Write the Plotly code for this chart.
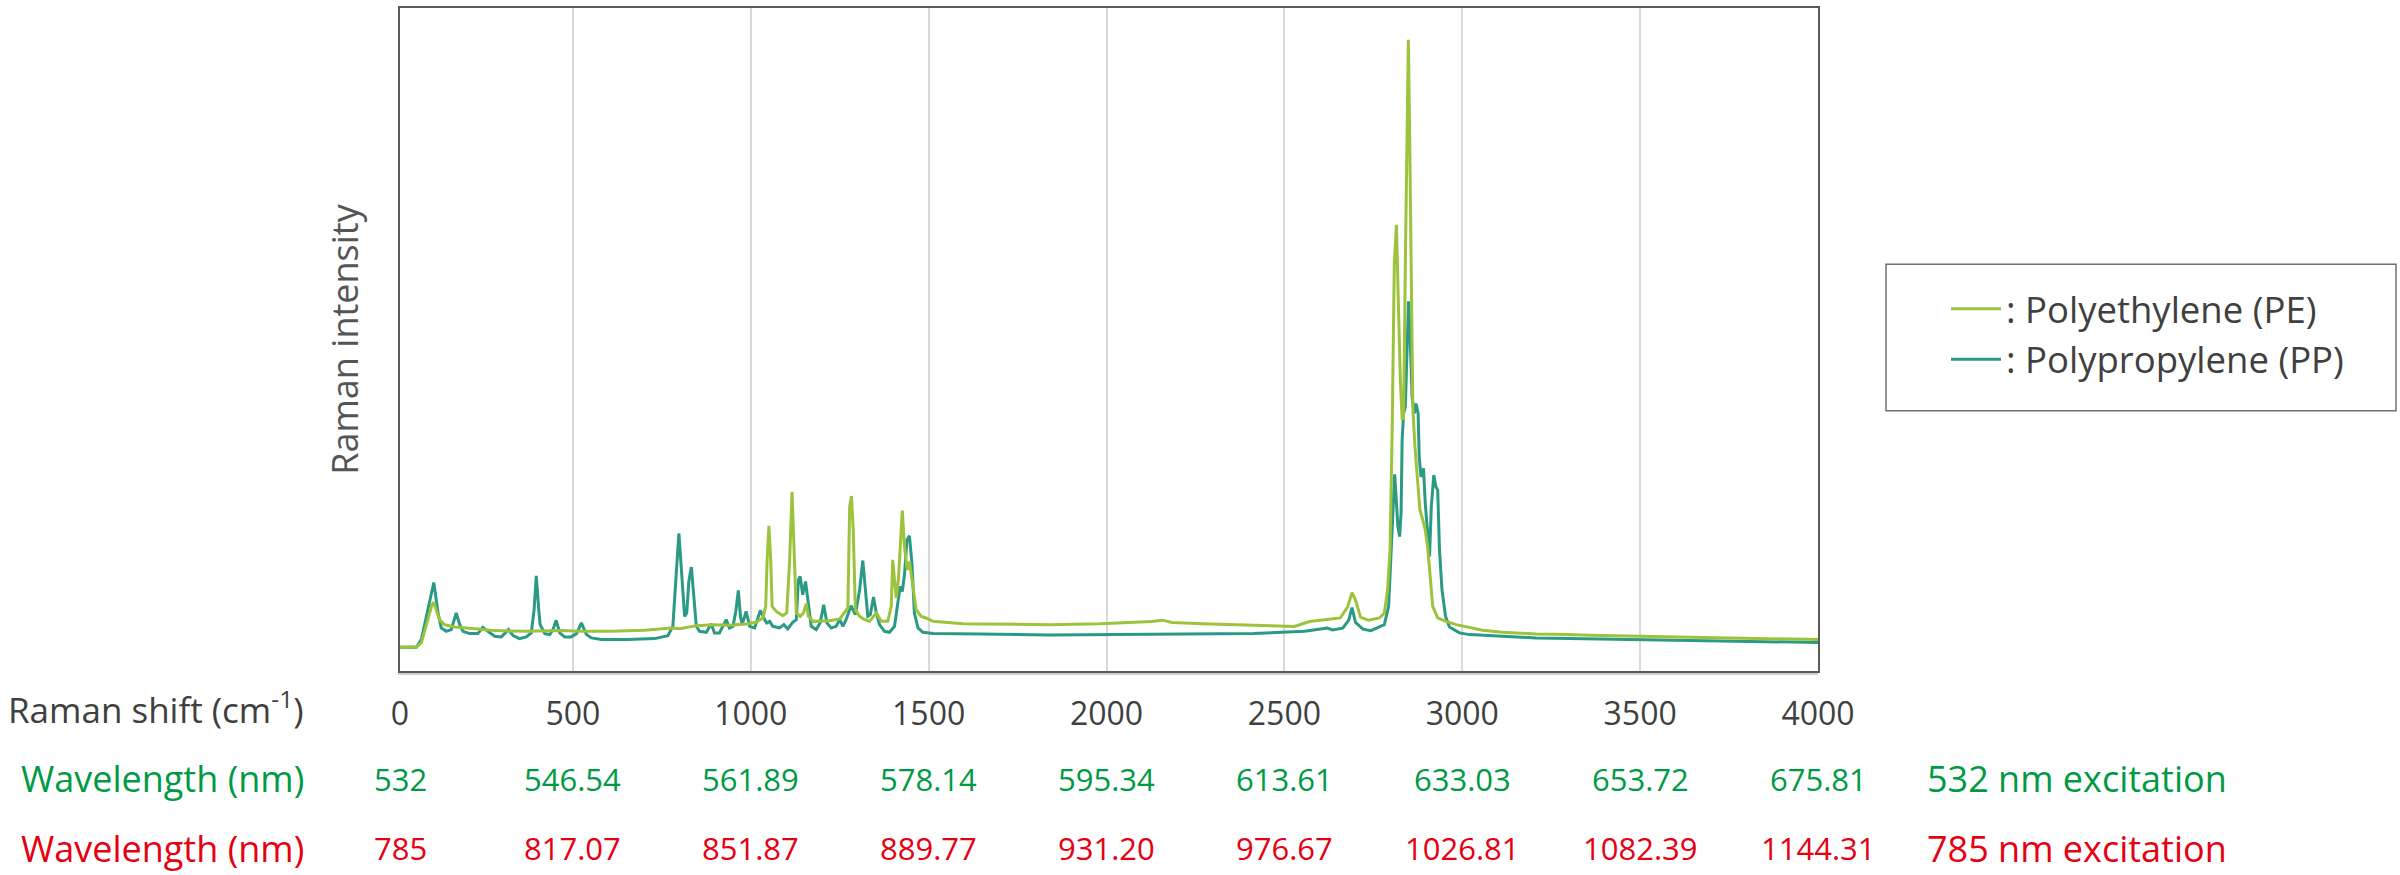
import plotly.graph_objects as go

# ---------------- data ----------------
# Raman shift (cm-1) and relative Raman intensity (arbitrary units)
pp_shift = [14, 60, 74, 93, 109, 121, 130, 144, 158, 172, 182, 191, 210, 233, 247, 261, 280, 299, 319, 332,
            350, 369, 383, 391, 397, 404, 408, 421, 435, 444, 453, 463, 477, 495, 510, 524, 538, 552, 580, 655,
            730, 767, 781, 790, 798, 807, 811, 814, 820, 826, 833, 839, 847, 856, 875, 889, 898, 912, 931, 940,
            950, 958, 965, 971, 976, 987, 997, 1011, 1027, 1039, 1045, 1053, 1062, 1081, 1093, 1104, 1118, 1128,
            1134, 1139, 1146, 1154, 1161, 1170, 1184, 1195, 1205, 1214, 1226, 1240, 1250, 1259, 1268, 1282, 1294,
            1306, 1315, 1323, 1329, 1336, 1345, 1353, 1362, 1376, 1390, 1404, 1413, 1420, 1426, 1432, 1439, 1446,
            1453, 1460, 1470, 1484, 1512, 1549, 1605, 1643, 1840, 2126, 2413, 2557, 2621, 2635, 2664, 2681, 2690,
            2700, 2721, 2743, 2762, 2781, 2793, 2800, 2806, 2810, 2814, 2819, 2824, 2828, 2831, 2835, 2840, 2844,
            2849, 2853, 2859, 2865, 2870, 2876, 2879, 2884, 2891, 2896, 2903, 2908, 2913, 2920, 2926, 2931, 2936,
            2943, 2953, 2964, 2992, 3020, 3114, 3207, 3301, 3357, 3500, 3700, 4000]
pp_intensity = [23.8, 23.8, 31.5, 61.5, 88.8, 58.2, 43.2, 39.8, 41.5, 58.2, 46.5, 39.8, 37.5, 37.5, 43.8, 39.8,
                34.8, 34.2, 41.5, 35.5, 32.5, 34.2, 38.2, 61.5, 95.5, 61.5, 46.5, 37.5, 36.5, 41.5, 50.8, 38.2,
                34.2, 34.2, 37.5, 48.2, 36.5, 33.2, 31.5, 31.5, 32.5, 35.5, 44.8, 95, 138, 91.5, 64.8, 54.8, 58.2,
                90, 104.2, 81.5, 44.8, 39.8, 38.8, 47.5, 38.2, 38.2, 51.5, 43.2, 44.8, 60, 80.8, 55, 46.5, 59.8,
                44.8, 43.2, 60.8, 51.5, 48.2, 49.8, 44.8, 43.2, 46.5, 42.2, 48.8, 51.5, 91.5, 94.8, 76.5, 89.8,
                71.5, 44.8, 41.5, 48.2, 66.5, 48.2, 43.2, 44.8, 51.5, 44.8, 51.5, 65.5, 56.5, 81.5, 110.8, 81.5,
                54.8, 56.5, 74.2, 58.2, 46.5, 39.8, 38.8, 44.8, 64.8, 84.8, 79.8, 96.5, 131.5, 135.5, 108.2, 58.2,
                43.2, 38.8, 37.5, 37.5, 37.2, 37.2, 36.2, 36.7, 37.6, 39.8, 43, 41.2, 43, 51, 63.5, 48.7, 42.0,
                40.5, 43.2, 46.5, 64.8, 121.5, 174.8, 197.2, 174.8, 144.8, 134.8, 158.2, 231.5, 258.2, 264.8,
                324.8, 370.8, 341.5, 274.8, 258.2, 268.2, 258.2, 214.8, 194.8, 203.2, 168.2, 134.8, 115, 164.8,
                196.5, 184.8, 181.5, 121.5, 81.5, 54.8, 44.2, 38.2, 36.5, 34.8, 33.2, 32.5, 32.2, 31.5, 30.5, 28.6]

pe_shift = [14, 60, 74, 93, 104, 109, 116, 125, 139, 168, 233, 280, 374, 467, 524, 608, 702, 776, 800, 847,
            894, 940, 987, 1015, 1034, 1042, 1046, 1051, 1056, 1060, 1072, 1090, 1101, 1109, 1116, 1123, 1128,
            1139, 1148, 1156, 1162, 1175, 1221, 1250, 1264, 1273, 1278, 1283, 1288, 1294, 1306, 1320, 1334, 1353,
            1367, 1385, 1395, 1399, 1404, 1409, 1415, 1421, 1426, 1432, 1440, 1446, 1456, 1465, 1479, 1493, 1512,
            1549, 1596, 1643, 1840, 1983, 2126, 2158, 2184, 2270, 2413, 2528, 2571, 2621, 2657, 2678, 2690, 2700,
            2714, 2736, 2767, 2781, 2790, 2797, 2803, 2809, 2815, 2820, 2826, 2831, 2835, 2840, 2844, 2848.5,
            2852, 2856, 2861, 2867, 2875, 2881, 2889, 2896, 2903, 2910, 2917, 2931, 2954, 2983, 3011, 3057, 3114,
            3207, 3301, 3357, 3500, 3700, 4000]
pe_intensity = [23.8, 24.2, 28.2, 51.5, 66.5, 68.8, 61.5, 51.5, 46.5, 44.2, 42.2, 40.5, 39.8, 40.5, 39.8, 39.8,
                40.8, 43.2, 42.5, 45.5, 46.5, 45.8, 47.2, 48.8, 53.2, 64.8, 111.5, 145.5, 111.5, 64.8, 59.8, 55.5,
                58.2, 108.2, 179.8, 108.2, 58.2, 54.8, 58.2, 67.5, 54.8, 49.8, 50.5, 52.2, 58.2, 63.2, 164.8, 175.5,
                141.5, 61.5, 54.8, 51.5, 49.8, 58.2, 49.8, 49.8, 64.8, 111.5, 91.5, 73.2, 91.5, 134.8, 160.8, 124.8,
                101.5, 109.8, 81.5, 61.5, 54.8, 53.2, 49.8, 48.8, 47.5, 47.2, 46.5, 47.4, 49.6, 51, 48.7, 47.4, 45.6,
                44.7, 49.6, 51.9, 53.2, 64.4, 78.6, 71.1, 54.1, 51, 53.2, 58.2, 81.5, 121.5, 241.5, 408.2, 447.5,
                374.8, 291.5, 253.2, 253.2, 408.2, 541.5, 633.2, 541.5, 408.2, 264.8, 224.8, 184.8, 161.5, 151.5,
                141.5, 123, 91.5, 64.8, 53.2, 49.8, 46.5, 44.2, 40.8, 38.8, 37.2, 36.5, 35.8, 34.8, 33.5, 31.5]

# tick / row labels
raman_ticks = [0, 500, 1000, 1500, 2000, 2500, 3000, 3500, 4000]
raman_tick_text = ["0", "500", "1000", "1500", "2000", "2500", "3000", "3500", "4000"]
wl_532_text = ["532", "546.54", "561.89", "578.14", "595.34", "613.61", "633.03", "653.72", "675.81"]
wl_785_text = ["785", "817.07", "851.87", "889.77", "931.20", "976.67", "1026.81", "1082.39", "1144.31"]

series_names = [": Polyethylene (PE)", ": Polypropylene (PP)"]

# ---------------- styling ----------------
W, H = 2400, 875
ML, MR, MT, MB = 400, 582, 6, 204
X_MIN, X_MAX = 14, 4000
Y_MAX = H - MT - MB

PE_COLOR = "#9dc23c"
PP_COLOR = "#2a9a85"
GREEN = "#009a44"
RED = "#e60012"
GRAY_TXT = "#404040"
FONT = "Open Sans"

plot_w = W - ML - MR
plot_h = H - MT - MB


def px_to_paper_x(px):
    return (px - ML) / plot_w


def px_to_paper_y(py):
    return (H - MB - py) / plot_h


tick_pos = [max(v, X_MIN) for v in raman_ticks]

fig = go.Figure()
fig.add_trace(go.Scatter(x=pp_shift, y=pp_intensity, mode="lines", name=series_names[1],
                         line=dict(color=PP_COLOR, width=3), legendrank=2))
fig.add_trace(go.Scatter(x=pe_shift, y=pe_intensity, mode="lines", name=series_names[0],
                         line=dict(color=PE_COLOR, width=3), legendrank=1))

annotations = []
# row labels
row_y = [708, 779, 849]
annotations.append(dict(xref="paper", yref="paper", x=px_to_paper_x(306), y=px_to_paper_y(row_y[0]),
                        xanchor="right", yanchor="middle", showarrow=False,
                        text="Raman shift (cm<sup>-1</sup>)", font=dict(family=FONT, size=35, color=GRAY_TXT)))
annotations.append(dict(xref="paper", yref="paper", x=px_to_paper_x(306), y=px_to_paper_y(row_y[1]),
                        xanchor="right", yanchor="middle", showarrow=False,
                        text="Wavelength (nm)", font=dict(family=FONT, size=36, color=GREEN)))
annotations.append(dict(xref="paper", yref="paper", x=px_to_paper_x(306), y=px_to_paper_y(row_y[2]),
                        xanchor="right", yanchor="middle", showarrow=False,
                        text="Wavelength (nm)", font=dict(family=FONT, size=36, color=RED)))
for xp, t in zip(tick_pos, wl_532_text):
    annotations.append(dict(xref="x", yref="paper", x=xp, y=px_to_paper_y(row_y[1]), xanchor="center",
                            yanchor="middle", showarrow=False, text=t,
                            font=dict(family=FONT, size=31, color=GREEN)))
for xp, t in zip(tick_pos, wl_785_text):
    annotations.append(dict(xref="x", yref="paper", x=xp, y=px_to_paper_y(row_y[2]), xanchor="center",
                            yanchor="middle", showarrow=False, text=t,
                            font=dict(family=FONT, size=31, color=RED)))
annotations.append(dict(xref="paper", yref="paper", x=px_to_paper_x(1925), y=px_to_paper_y(row_y[1]),
                        xanchor="left", yanchor="middle", showarrow=False, text="532 nm excitation",
                        font=dict(family=FONT, size=36, color=GREEN)))
annotations.append(dict(xref="paper", yref="paper", x=px_to_paper_x(1925), y=px_to_paper_y(row_y[2]),
                        xanchor="left", yanchor="middle", showarrow=False, text="785 nm excitation",
                        font=dict(family=FONT, size=36, color=RED)))

shapes = [
    # legend box
    dict(type="rect", xref="paper", yref="paper",
         x0=px_to_paper_x(1886), x1=px_to_paper_x(2396), y0=px_to_paper_y(410), y1=px_to_paper_y(263),
         line=dict(color="#707070", width=1.5), fillcolor="rgba(0,0,0,0)"),
    # subtle frame shadow
    dict(type="line", xref="paper", yref="paper", x0=px_to_paper_x(398), x1=1.0,
         y0=px_to_paper_y(674), y1=px_to_paper_y(674), line=dict(color="#cfcfcf", width=2)),
]

fig.update_layout(
    width=W, height=H,
    margin=dict(l=ML, r=MR, t=MT, b=MB),
    paper_bgcolor="white", plot_bgcolor="white",
    font=dict(family=FONT, color=GRAY_TXT),
    showlegend=True,
    legend=dict(x=px_to_paper_x(1946), y=px_to_paper_y(333), xanchor="left", yanchor="middle",
                bgcolor="rgba(0,0,0,0)", borderwidth=0, traceorder="normal",
                font=dict(family=FONT, size=36.5, color=GRAY_TXT), itemwidth=50, tracegroupgap=0),
    xaxis=dict(range=[X_MIN, X_MAX], showgrid=True, gridcolor="#dadada", gridwidth=2,
               tickmode="array", tickvals=tick_pos, ticktext=raman_tick_text,
               tickfont=dict(family=FONT, size=32, color=GRAY_TXT), ticks="", ticklabelstandoff=14,
               showline=True, linecolor="#5a5a5a", linewidth=2, mirror=True, zeroline=False),
    yaxis=dict(range=[0, Y_MAX], showgrid=False, showticklabels=False, ticks="",
               showline=True, linecolor="#5a5a5a", linewidth=2, mirror=True, zeroline=False,
               title=dict(text="Raman intensity", font=dict(family=FONT, size=36, color="#555555"),
                          standoff=28)),
    annotations=annotations,
    shapes=shapes,
)

fig.write_html("out.html", config={"displayModeBar": False},
               post_script="document.body.style.margin='0px';document.body.style.padding='0px';")
